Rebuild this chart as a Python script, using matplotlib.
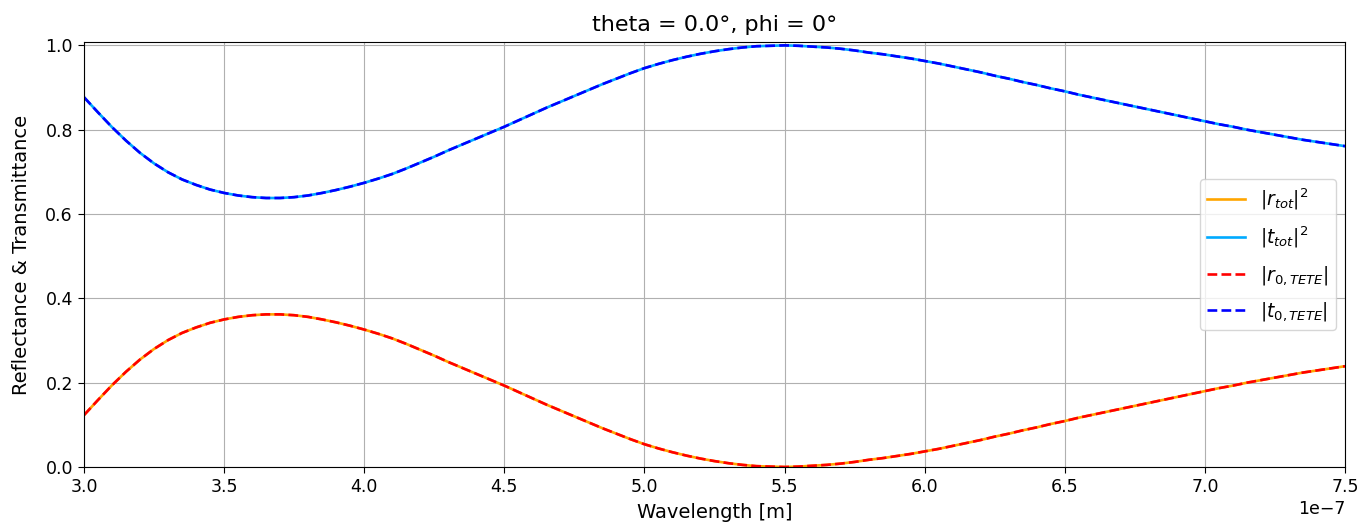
import matplotlib
matplotlib.use("Agg")
import matplotlib.pyplot as plt
from matplotlib.ticker import MultipleLocator
import numpy as np

# Wavelength samples (nm), converted to metres for plotting
wavelength_nm = list(range(300, 755, 5))

# Total reflectance |r_tot|^2
r_tot = [0.123, 0.159, 0.194, 0.226, 0.255, 0.280, 0.301, 0.318, 0.331, 0.342,
         0.350, 0.356, 0.360, 0.362, 0.362, 0.360, 0.356, 0.350, 0.343, 0.335,
         0.326, 0.316, 0.305, 0.292, 0.278, 0.264, 0.249, 0.235, 0.221, 0.207,
         0.193, 0.178, 0.163, 0.148, 0.134, 0.120, 0.106, 0.092, 0.079, 0.066,
         0.054, 0.044, 0.035, 0.027, 0.020, 0.014, 0.009, 0.005, 0.002, 0.001,
         0.000, 0.001, 0.003, 0.005, 0.008, 0.012, 0.017, 0.021, 0.026, 0.031,
         0.037, 0.043, 0.050, 0.057, 0.064, 0.072, 0.079, 0.087, 0.094, 0.102,
         0.109, 0.117, 0.124, 0.131, 0.138, 0.145, 0.152, 0.159, 0.166, 0.173,
         0.180, 0.187, 0.193, 0.200, 0.206, 0.212, 0.218, 0.224, 0.229, 0.234,
         0.239]

# Total transmittance |t_tot|^2
t_tot = [0.877, 0.841, 0.806, 0.774, 0.745, 0.720, 0.699, 0.682, 0.669, 0.658,
         0.650, 0.644, 0.640, 0.638, 0.638, 0.640, 0.644, 0.650, 0.657, 0.665,
         0.674, 0.684, 0.695, 0.708, 0.722, 0.736, 0.751, 0.765, 0.779, 0.793,
         0.807, 0.822, 0.837, 0.852, 0.866, 0.880, 0.894, 0.908, 0.921, 0.934,
         0.946, 0.956, 0.965, 0.973, 0.980, 0.986, 0.991, 0.995, 0.998, 0.999,
         1.000, 0.999, 0.997, 0.995, 0.992, 0.988, 0.983, 0.979, 0.974, 0.969,
         0.963, 0.957, 0.950, 0.943, 0.936, 0.928, 0.921, 0.913, 0.906, 0.898,
         0.891, 0.883, 0.876, 0.869, 0.862, 0.855, 0.848, 0.841, 0.834, 0.827,
         0.820, 0.813, 0.807, 0.800, 0.794, 0.788, 0.782, 0.776, 0.771, 0.766,
         0.761]

# Single-interface TE/TE coefficients (coincide with the totals)
r0_tete = list(r_tot)
t0_tete = list(t_tot)

wl = np.array(wavelength_nm) * 1e-9

fig = plt.figure(figsize=(13.62, 5.26), dpi=100)
ax = fig.add_axes([84 / 1362, 1 - 467 / 526, (1345 - 84) / 1362, (467 - 42) / 526])

lw = 1.9
ax.plot(wl, r_tot, color="orange", lw=lw, label=r"$|r_{tot}|^2$")
ax.plot(wl, t_tot, color="#00aaff", lw=lw, label=r"$|t_{tot}|^2$")
ax.plot(wl, r0_tete, color="red", ls="--", lw=lw, label=r"$|r_{0,TETE}|$")
ax.plot(wl, t0_tete, color="blue", ls="--", lw=lw, label=r"$|t_{0,TETE}|$")

ax.set_xlim(3e-7, 7.5e-7)
ax.set_ylim(0, 1.008)
ax.xaxis.set_major_locator(MultipleLocator(0.5e-7))
ax.yaxis.set_major_locator(MultipleLocator(0.2))
ax.set_xlabel("Wavelength [m]", fontsize=14, labelpad=5)
ax.set_ylabel("Reflectance & Transmittance", fontsize=14, labelpad=10)
ax.set_title("theta = 0.0°, phi = 0°", fontsize=16, pad=8)
ax.tick_params(labelsize=12.5, length=4.5)
ax.xaxis.get_offset_text().set_fontsize(12.5)
ax.grid(True)
ax.legend(loc="center right", fontsize=13.5, labelspacing=0.7)

fig.savefig("out.png", dpi=100)
